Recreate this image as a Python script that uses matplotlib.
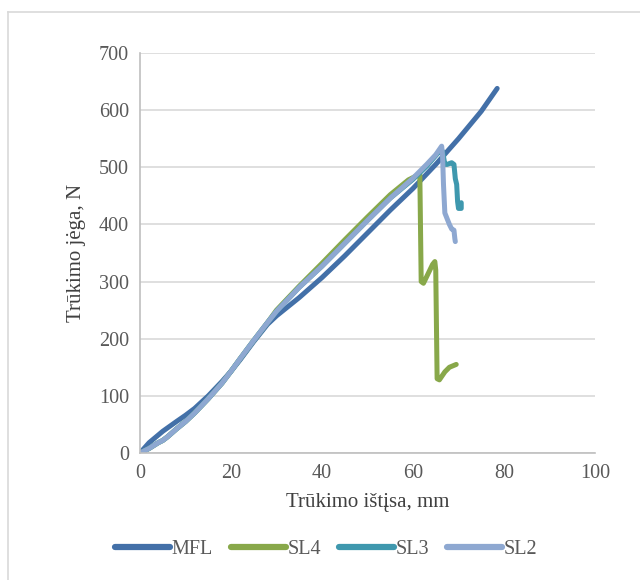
import matplotlib
matplotlib.use("Agg")
import matplotlib.pyplot as plt
from matplotlib.lines import Line2D

plt.rcParams['font.family'] = ['Liberation Serif', 'DejaVu Serif']

# ---- data ----
mfl_x = [0, 2, 5, 8, 10, 12, 15, 18, 20, 22, 25, 28, 30, 35, 40, 45, 50, 55, 60, 65, 70, 75, 78.5]
mfl_y = [0, 18, 38, 55, 66, 78, 100, 125, 143, 163, 195, 225, 240, 272, 307, 345, 385, 425, 463, 505, 550, 598, 638]

sl4_x = [0, 2, 4, 5, 6, 8, 10, 12, 15, 18, 20, 22, 25, 28, 30, 35, 40, 45, 50, 55, 59, 61.5,
         61.8, 62.3, 64.3, 64.8, 65.0, 65.3, 65.8, 67, 68, 69.5]
sl4_y = [0, 8, 18, 22, 28, 42, 55, 70, 95, 122, 143, 165, 197, 228, 250, 292, 332, 373, 413, 452, 478, 488,
         300, 297, 330, 335, 320, 130, 128, 142, 150, 155]

sl3_x = [0, 2, 4, 5, 6, 8, 10, 12, 15, 18, 20, 22, 25, 28, 30, 35, 40, 45, 50, 55, 60, 63, 65.5, 66.5,
         67, 67.5, 68.5, 69, 69.3, 69.6, 69.8, 70, 70.6, 70.6]
sl3_y = [0, 8, 18, 22, 28, 42, 55, 70, 95, 122, 143, 165, 197, 228, 248, 290, 327, 367, 407, 446, 479, 502, 525, 528,
         505, 505, 508, 505, 480, 470, 440, 428, 428, 438]

sl2_x = [0, 2, 4, 5, 6, 8, 10, 12, 15, 18, 20, 22, 25, 28, 30, 35, 40, 45, 50, 55, 60, 63, 65, 66.3,
         66.5, 66.7, 67, 67.5, 68, 68.5, 69, 69.2, 69.3]
sl2_y = [0, 8, 18, 22, 28, 42, 55, 70, 95, 122, 143, 165, 197, 228, 248, 290, 327, 367, 407, 446, 481, 505, 522, 537,
         520, 470, 420, 410, 400, 392, 390, 375, 370]

series_names = ['MFL', 'SL4', 'SL3', 'SL2']
series_colors = ['#4370A8', '#88A84A', '#3F98AE', '#8EA8D1']

x_ticks = [0, 20, 40, 60, 80, 100]
y_ticks = [0, 100, 200, 300, 400, 500, 600, 700]
x_label = 'Trūkimo ištįsa, mm'
y_label = 'Trūkimo jėga, N'

# ---- figure ----
fig = plt.figure(figsize=(6.4, 5.8), dpi=100)
ax = fig.add_axes([140/640, 1-453/580, (595-140)/640, (453-53)/580])

data = [(mfl_x, mfl_y), (sl4_x, sl4_y), (sl3_x, sl3_y), (sl2_x, sl2_y)]
for (xs, ys), name, c in zip(data, series_names, series_colors):
    ax.plot(xs, ys, color=c, lw=3.6, solid_capstyle='round', solid_joinstyle='round', label=name)

ax.set_xlim(0, 100)
ax.set_ylim(0, 700)
ax.set_xticks(x_ticks)
ax.set_yticks(y_ticks)
ax.tick_params(length=0, labelsize=14.5, colors='#595959', pad=8)
ax.grid(axis='y', color='#d9d9d9', lw=1.2)
ax.set_axisbelow(True)
for s in ['top', 'right']:
    ax.spines[s].set_visible(False)
for s in ['left', 'bottom']:
    ax.spines[s].set_color('#bfbfbf')
    ax.spines[s].set_linewidth(1.2)

ax.set_xlabel(x_label, fontsize=15, color='#404040', labelpad=7)
ax.set_ylabel(y_label, fontsize=15, color='#404040', labelpad=9)

handles = [Line2D([], [], color=c, lw=4.5, solid_capstyle='round') for c in series_colors]
fig.legend(handles, series_names, loc='center', bbox_to_anchor=(0.51, 1-549/580), ncol=4,
           frameon=False, fontsize=14.5, handlelength=2.7, handletextpad=0.1, columnspacing=0.9,
           labelcolor='#595959')

# outer chart border (top/left visible)
fig.add_artist(Line2D([8/640, 8/640], [0, 1-12/580], transform=fig.transFigure, color='#d9d9d9', lw=1.2))
fig.add_artist(Line2D([8/640, 1], [1-12/580, 1-12/580], transform=fig.transFigure, color='#d9d9d9', lw=1.2))

fig.savefig('out.png', dpi=100, facecolor='white')
